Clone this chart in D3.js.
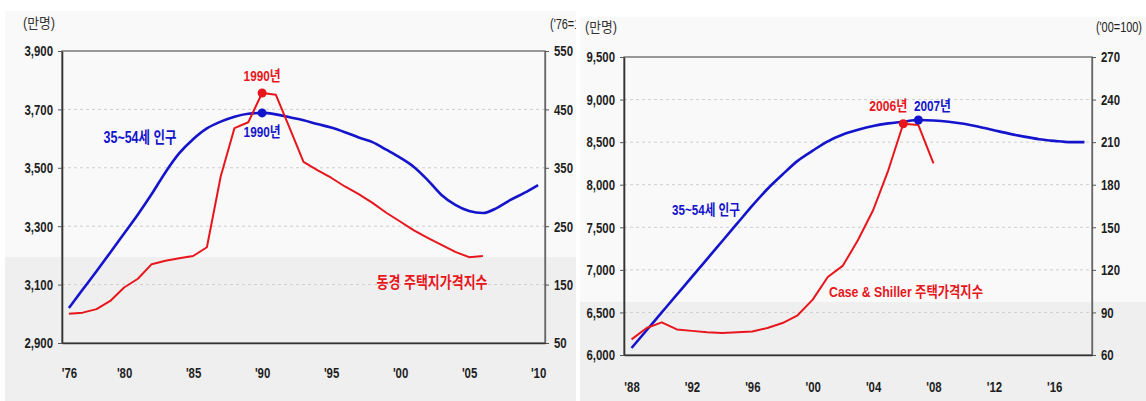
<!DOCTYPE html>
<html>
<head>
<meta charset="utf-8">
<script src="https://cdn.jsdelivr.net/npm/d3@7"></script>
<style>
  html, body { margin: 0; padding: 0; background: #fff; }
  svg { display: block; }
  text { font-family: "Liberation Sans", Arial, "Noto Sans CJK KR", sans-serif; }
</style>
</head>
<body>
<svg id="chart" width="1146" height="401"></svg>
<script>
// ---- Japan: 35~54세 인구 (만명) and 동경 주택지가격지수 ('76=100) ----
const jpPopYears = [1976,1977,1978,1979,1980,1981,1982,1983,1984,1985,1986,1987,1988,1989,1990,1991,1992,1993,
                    1994,1995,1996,1997,1998,1999,2000,2001,2002,2003,2004,2005,2006,2007,2008,2009,2010];
const jpPop = [3020,3083,3146,3210,3275,3340,3410,3485,3550,3598,3635,3658,3675,3685,3688,3683,3673,3663,
               3650,3638,3622,3604,3588,3562,3535,3503,3458,3407,3373,3352,3345,3362,3390,3414,3441];
const jpPriceYears = [1976,1977,1978,1979,1980,1981,1982,1983,1984,1985,1986,1987,1988,1989,1990,1991,1992,1993,
                      1994,1995,1996,1997,1998,1999,2000,2001,2002,2003,2004,2005,2006];
const jpPrice = [100,102,108,122,145,160,185,191,195,199,214,335,418,428,478,475,418,360,
                 346,333,318,305,290,273,258,243,230,218,206,197,199];
const jpXTicks = [1976,1980,1985,1990,1995,2000,2005,2010];
const jpXLabels = ["'76","'80","'85","'90","'95","'00","'05","'10"];
const jpYTicks = [2900,3100,3300,3500,3700,3900];
const jpY2Ticks = [50,150,250,350,450,550];
const jpPeakYear = 1990;

// ---- US: 35~54세 인구 (만명) and Case & Shiller 주택가격지수 ('00=100) ----
const usPopYears = [1988,1989,1990,1991,1992,1993,1994,1995,1996,1997,1998,1999,2000,2001,2002,2003,
                    2004,2005,2006,2007,2008,2009,2010,2011,2012,2013,2014,2015,2016,2017,2018];
const usPop = [6082,6291,6500,6709,6918,7127,7336,7545,7754,7950,8120,8280,8400,8510,8590,8645,
               8690,8720,8740,8760,8755,8740,8715,8680,8640,8600,8565,8535,8515,8500,8500];
const usPriceYears = [1988,1989,1990,1991,1992,1993,1994,1995,1996,1997,1998,1999,2000,2001,2002,2003,
                      2004,2005,2006,2007,2008];
const usPrice = [71,79,83,78,77,76,75.5,76,76.5,79,82.5,88,99,115,123,141,162,190,223,222,195];
const usXTicks = [1988,1992,1996,2000,2004,2008,2012,2016];
const usXLabels = ["'88","'92","'96","'00","'04","'08","'12","'16"];
const usYTicks = [6000,6500,7000,7500,8000,8500,9000,9500];
const usY2Ticks = [60,90,120,150,180,210,240,270];
const usPricePeakYear = 2006;
const usPopPeakYear = 2007;

const BLUE = "#1414cc";
const RED = "#e8161c";
const NARROW = 0.76;   // horizontal squeeze for the narrow lettering
const svg = d3.select("#chart");
const defs = svg.append("defs");

// squeeze text horizontally, keeping its anchor
function condense(sel, k = NARROW) {
  sel.each(function () {
    const w = this.getComputedTextLength();
    d3.select(this).attr("textLength", w * k).attr("lengthAdjust", "spacingAndGlyphs");
  });
}

function drawPanel(o) {
  const g = svg.append("g");
  if (o.clipRight) {
    const clipId = "clip-" + o.id;
    defs.append("clipPath").attr("id", clipId)
      .append("rect").attr("x", 0).attr("y", 0).attr("width", o.clipRight).attr("height", 401);
    g.attr("clip-path", `url(#${clipId})`);
  }

  // panel background with lower shaded band
  g.append("rect").attr("x", o.bx0).attr("y", o.by0).attr("width", o.bx1 - o.bx0).attr("height", 401 - o.by0)
    .attr("fill", "#f9f9f9");
  g.append("rect").attr("x", o.bx0).attr("y", o.band).attr("width", o.bx1 - o.bx0).attr("height", 401 - o.band)
    .attr("fill", "#efefef");

  const x = d3.scaleLinear().domain(o.xDomain).range([o.left, o.right]);
  const y = d3.scaleLinear().domain([o.yTicks[0], o.yTicks[o.yTicks.length - 1]]).range([o.bottom, o.top]);
  const y2 = d3.scaleLinear().domain([o.y2Ticks[0], o.y2Ticks[o.y2Ticks.length - 1]]).range([o.bottom, o.top]);

  // dashed gridlines
  g.append("g").selectAll("line").data(o.yTicks.slice(1, -1)).join("line")
    .attr("x1", o.left).attr("x2", o.right)
    .attr("y1", d => y(d)).attr("y2", d => y(d))
    .attr("stroke", "#cfcfcf").attr("stroke-width", 1).attr("stroke-dasharray", "3,3");

  // plot frame
  g.append("rect").attr("x", o.left).attr("y", o.top).attr("width", o.right - o.left).attr("height", o.bottom - o.top)
    .attr("fill", "none").attr("stroke", "#666").attr("stroke-width", 1.3);

  const styleAxis = sel => {
    sel.select(".domain").attr("stroke", "#333").attr("stroke-width", 1.6);
    sel.selectAll(".tick line").attr("stroke", "#555");
    sel.selectAll("text").attr("fill", "#1e1e1e").attr("font-size", 15).attr("font-weight", "bold").call(condense);
  };

  g.append("g").attr("transform", `translate(${o.left},0)`)
    .call(d3.axisLeft(y).tickValues(o.yTicks).tickFormat(d3.format(",")).tickSize(4).tickPadding(5).tickSizeOuter(0))
    .call(styleAxis);
  g.append("g").attr("transform", `translate(${o.right},0)`)
    .call(d3.axisRight(y2).tickValues(o.y2Ticks).tickFormat(d3.format("d")).tickSize(4).tickPadding(5).tickSizeOuter(0))
    .call(styleAxis)
    .call(s => s.select(".domain").attr("stroke", "#666").attr("stroke-width", 1.3));
  g.append("g").attr("transform", `translate(0,${o.bottom})`)
    .call(d3.axisBottom(x).tickValues(o.xTicks).tickFormat((d, i) => o.xLabels[i]).tickSize(0).tickPadding(o.xPad).tickSizeOuter(0))
    .call(styleAxis);

  // lines
  const popLine = d3.line().x((d, i) => x(o.popYears[i])).y(d => y(d)).curve(d3.curveMonotoneX);
  g.append("path").datum(o.pop).attr("d", popLine)
    .attr("fill", "none").attr("stroke", BLUE).attr("stroke-width", 2.6).attr("stroke-linejoin", "round");
  const priceLine = d3.line().x((d, i) => x(o.priceYears[i])).y(d => y2(d));
  g.append("path").datum(o.price).attr("d", priceLine)
    .attr("fill", "none").attr("stroke", RED).attr("stroke-width", 2).attr("stroke-linejoin", "round");

  // unit captions
  g.append("text").attr("x", o.unitL[0]).attr("y", o.unitL[1]).attr("dominant-baseline", "central")
    .attr("font-size", 14).attr("fill", "#333").attr("textLength", 32).attr("lengthAdjust", "spacingAndGlyphs")
    .text("(만명)");
  g.append("text").attr("x", o.unitR[0]).attr("y", o.unitR[1]).attr("dominant-baseline", "central")
    .attr("text-anchor", o.unitRAnchor).attr("font-size", 14).attr("fill", "#222")
    .text(o.unitRText).call(condense, 0.78);

  return { g, x, y, y2 };
}

function label(g, txt, cx, cy, color, size, width) {
  const t = g.append("text").attr("x", cx).attr("y", cy).attr("text-anchor", "middle")
    .attr("dominant-baseline", "central").attr("font-size", size).attr("font-weight", "bold")
    .attr("fill", color).text(txt);
  if (width) t.attr("textLength", width).attr("lengthAdjust", "spacingAndGlyphs");
  return t;
}

// Left panel: Japan
const jp = drawPanel({
  id: "jp", bx0: 5, bx1: 577, by0: 11, band: 257, clipRight: 576,
  left: 62, right: 545, top: 51, bottom: 343,
  xDomain: [1975.5, 2010.5], xTicks: jpXTicks, xLabels: jpXLabels, xPad: 24,
  yTicks: jpYTicks, y2Ticks: jpY2Ticks,
  popYears: jpPopYears, pop: jpPop, priceYears: jpPriceYears, price: jpPrice,
  unitL: [23, 23], unitR: [550, 24], unitRAnchor: "start", unitRText: "('76=100)"
});
{
  const pi = jpPriceYears.indexOf(jpPeakYear), qi = jpPopYears.indexOf(jpPeakYear);
  const px = jp.x(jpPeakYear), py = jp.y2(jpPrice[pi]), qy = jp.y(jpPop[qi]);
  jp.g.append("circle").attr("cx", px).attr("cy", py).attr("r", 4.5).attr("fill", RED);
  jp.g.append("circle").attr("cx", px).attr("cy", qy).attr("r", 4.5).attr("fill", BLUE);
  label(jp.g, jpPeakYear + "년", px, py - 18, RED, 15, 37);
  label(jp.g, jpPeakYear + "년", px, qy + 19, BLUE, 15, 37);
  label(jp.g, "35~54세 인구", 140, 137, BLUE, 16, 73);
  label(jp.g, "동경 주택지가격지수", 432, 282, RED, 16, 111);
}

// Right panel: US
const us = drawPanel({
  id: "us", bx0: 580, bx1: 1146, by0: 17, band: 302, clipRight: null,
  left: 624, right: 1092, top: 57, bottom: 355,
  xDomain: [1987.5, 2018.5], xTicks: usXTicks, xLabels: usXLabels, xPad: 26,
  yTicks: usYTicks, y2Ticks: usY2Ticks,
  popYears: usPopYears, pop: usPop, priceYears: usPriceYears, price: usPrice,
  unitL: [585, 27], unitR: [1142, 27], unitRAnchor: "end", unitRText: "('00=100)"
});
{
  const pi = usPriceYears.indexOf(usPricePeakYear), qi = usPopYears.indexOf(usPopPeakYear);
  const px = us.x(usPricePeakYear), py = us.y2(usPrice[pi]);
  const qx = us.x(usPopPeakYear), qy = us.y(usPop[qi]);
  us.g.append("circle").attr("cx", px).attr("cy", py).attr("r", 4.5).attr("fill", RED);
  us.g.append("circle").attr("cx", qx).attr("cy", qy).attr("r", 4.5).attr("fill", BLUE);
  label(us.g, usPricePeakYear + "년", px - 15, 105, RED, 15, 38);
  label(us.g, usPopPeakYear + "년", qx + 14, 105, BLUE, 15, 37);
  label(us.g, "35~54세 인구", 706, 209, BLUE, 15, 68);
  label(us.g, "Case & Shiller 주택가격지수", 906, 291, RED, 15, 154);
}
</script>
</body>
</html>
